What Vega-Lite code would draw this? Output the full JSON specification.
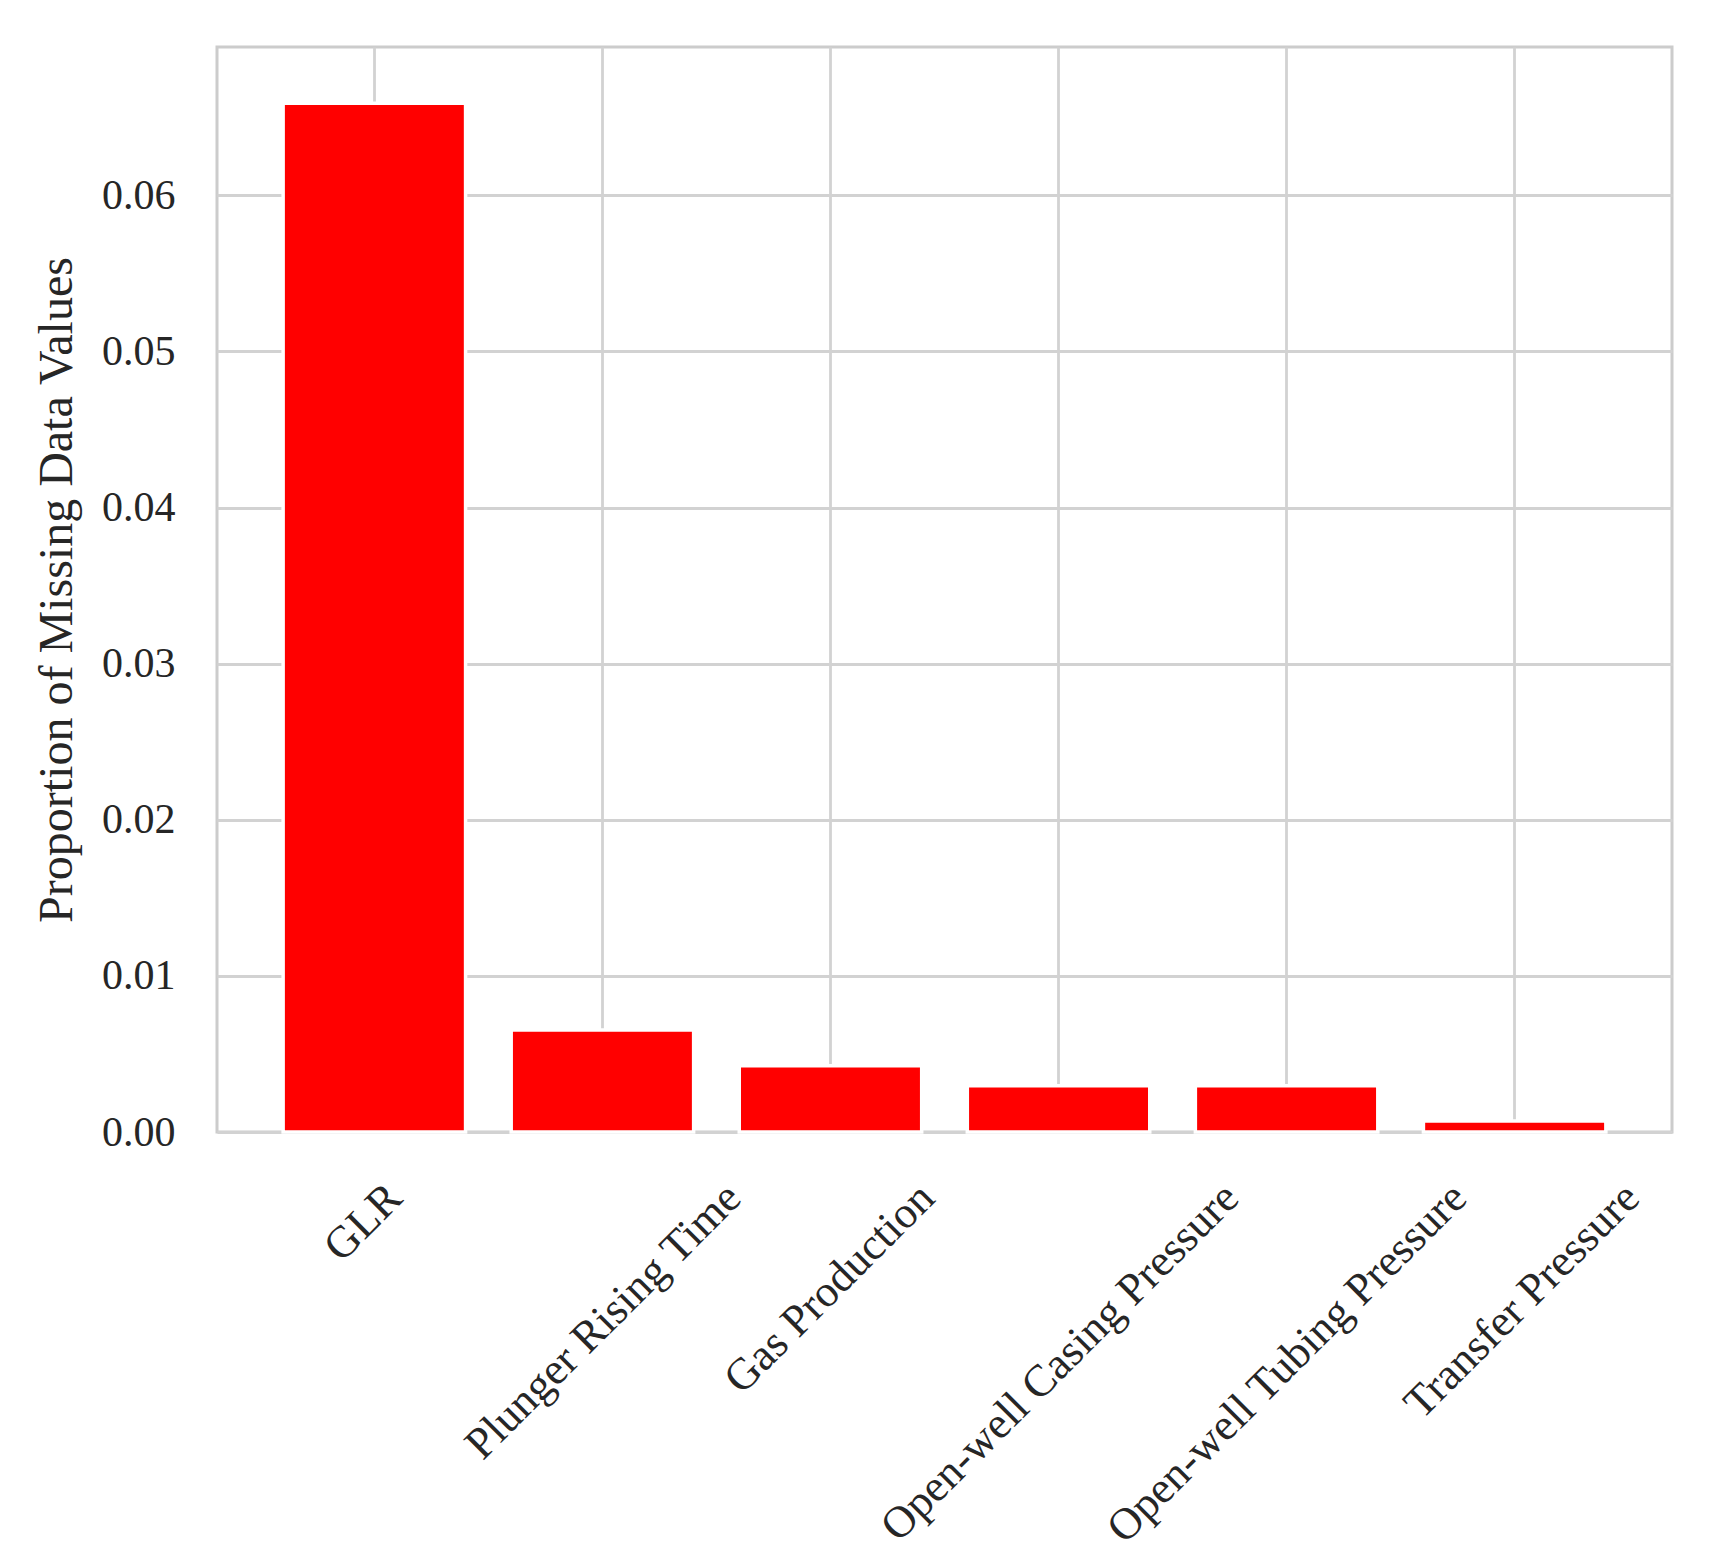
{
  "$schema": "https://vega.github.io/schema/vega-lite/v6.json",
  "width": 1455,
  "height": 1085,
  "autosize": {"type": "none"},
  "padding": {"left": 217, "top": 47, "right": 45, "bottom": 428},
  "background": "white",
  "config": {
    "view": {"stroke": "#cccccc", "strokeWidth": 3},
    "font": "Liberation Serif",
    "axis": {
      "labelFont": "Liberation Serif",
      "titleFont": "Liberation Serif",
      "labelColor": "#262626",
      "titleColor": "#262626",
      "gridColor": "#d2d2d2",
      "gridWidth": 2.8,
      "domain": false,
      "ticks": false
    }
  },
  "data": {
    "values": [
      {"feature": "GLR", "proportion": 0.0659},
      {"feature": "Plunger Rising Time", "proportion": 0.00653},
      {"feature": "Gas Production", "proportion": 0.00424},
      {"feature": "Open-well Casing Pressure", "proportion": 0.00296},
      {"feature": "Open-well Tubing Pressure", "proportion": 0.00296},
      {"feature": "Transfer Pressure", "proportion": 0.0007}
    ]
  },
  "encoding": {
    "x": {
      "field": "feature",
      "type": "nominal",
      "sort": null,
      "scale": {"paddingInner": 0.2, "paddingOuter": 0.29},
      "axis": {
        "title": null,
        "bandPosition": 0.5,
        "grid": true,
        "labels": false
      }
    }
  },
  "layer": [
    {
      "mark": {"type": "bar", "color": "#ff0000", "stroke": "white", "strokeWidth": 3.5},
      "encoding": {
        "y": {
          "field": "proportion",
          "type": "quantitative",
          "scale": {"domain": [0, 0.0695], "nice": false, "zero": true},
          "axis": {
            "title": "Proportion of Missing Data Values",
            "titleFontSize": 48,
            "titleFontWeight": "normal",
            "titlePadding": 20,
            "values": [0, 0.01, 0.02, 0.03, 0.04, 0.05, 0.06],
            "format": ".2f",
            "labelFontSize": 42,
            "labelPadding": 42,
            "grid": true
          }
        }
      }
    },
    {
      "mark": {
        "type": "text",
        "font": "Liberation Serif",
        "fontSize": 44.5,
        "color": "#262626",
        "angle": -45,
        "align": "right",
        "baseline": "middle",
        "dx": {"expr": "4.9*length(datum.feature) - 42"},
        "dy": {"expr": "4.9*length(datum.feature) + 42"}
      },
      "encoding": {
        "y": {"datum": 0, "type": "quantitative"},
        "text": {"field": "feature"}
      }
    }
  ]
}
